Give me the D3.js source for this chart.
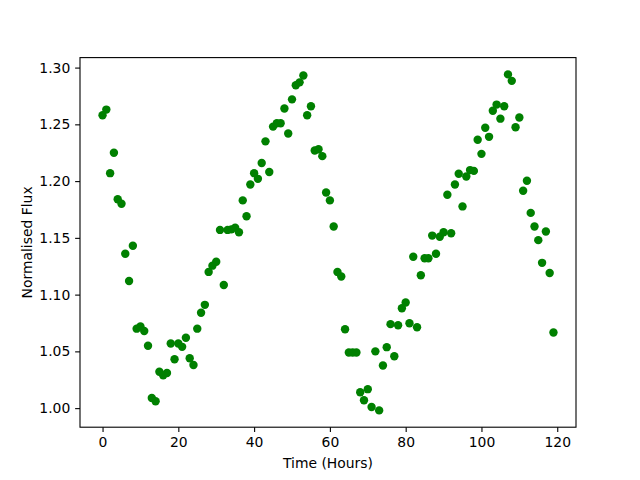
<!DOCTYPE html>
<html>
<head>
<meta charset="utf-8">
<script src="https://cdn.jsdelivr.net/npm/d3@7"></script>
<style>
  body { margin: 0; background: #fff; }
  .axis text { font: 13.9px "DejaVu Sans", sans-serif; fill: #000; }
  .axis line { stroke: #000; stroke-width: 1.1; }
  .axis path { display: none; }
  .label { font: 13.9px "DejaVu Sans", sans-serif; fill: #000; }
</style>
</head>
<body>
<svg class="chart"></svg>
<script>
// hours since start of observation
var hours = d3.range(0, 120);

// normalised flux, one value per hour
var flux = [
  1.258, 1.263, 1.207, 1.225, 1.184, 1.180, 1.136, 1.112, 1.143, 1.070,
  1.072, 1.068, 1.055, 1.009, 1.006, 1.032, 1.029, 1.031, 1.057, 1.043,
  1.057, 1.054, 1.062, 1.044, 1.038, 1.070, 1.084, 1.091, 1.120, 1.1255,
  1.129, 1.157, 1.1085, 1.157, 1.1575, 1.159, 1.155, 1.183, 1.169, 1.197,
  1.207, 1.202, 1.216, 1.235, 1.208, 1.248, 1.251, 1.251, 1.264, 1.242,
  1.272, 1.2845, 1.287, 1.293, 1.258, 1.266, 1.227, 1.228, 1.222, 1.190,
  1.183, 1.160, 1.120, 1.116, 1.0695, 1.049, 1.049, 1.049, 1.014, 1.007,
  1.0167, 1.001, 1.050, 0.998, 1.0376, 1.0537, 1.074, 1.0457, 1.073, 1.088,
  1.093, 1.0748, 1.1334, 1.0713, 1.117, 1.132, 1.132, 1.152, 1.136, 1.151,
  1.155, 1.188, 1.154, 1.197, 1.2065, 1.1777, 1.204, 1.2097, 1.209, 1.2364,
  1.224, 1.247, 1.239, 1.262, 1.2674, 1.255, 1.266, 1.294, 1.2883, 1.2475,
  1.256, 1.1915, 1.2003, 1.172, 1.160, 1.148, 1.128, 1.1556, 1.119, 1.0666
];

var xTicks = [0, 20, 40, 60, 80, 100, 120];
var yTicks = [1.00, 1.05, 1.10, 1.15, 1.20, 1.25, 1.30];

var margin = {top: 57.6, right: 64, bottom: 52.8, left: 80},
    width = 640 - margin.left - margin.right,
    height = 480 - margin.top - margin.bottom;

var data = hours.map(function(h, i) { return {t: h, f: flux[i]}; });

// matplotlib style 5% margin around the data
function padded(ext) {
  var d = (ext[1] - ext[0]) * 0.05;
  return [ext[0] - d, ext[1] + d];
}

var x = d3.scaleLinear()
    .domain(padded(d3.extent(hours)))
    .range([0, width]);

var y = d3.scaleLinear()
    .domain(padded(d3.extent(flux)))
    .range([height, 0]);

var tick = 4.86;

var xAxis = d3.axisBottom(x)
    .tickValues(xTicks)
    .tickSize(tick)
    .tickPadding(4.86)
    .tickFormat(d3.format("d"));

var yAxis = d3.axisLeft(y)
    .tickValues(yTicks)
    .tickSize(tick)
    .tickPadding(4.86)
    .tickFormat(d3.format(".2f"));

var svg = d3.select(".chart")
    .attr("width", 640)
    .attr("height", 480);

svg.append("rect")
    .attr("width", 640)
    .attr("height", 480)
    .attr("fill", "#fff");

var chart = svg.append("g")
    .attr("transform", "translate(" + margin.left + "," + margin.top + ")");

chart.selectAll(".dot")
    .data(data)
    .enter().append("circle")
      .attr("class", "dot")
      .attr("cx", function(d) { return x(d.t); })
      .attr("cy", function(d) { return y(d.f); })
      .attr("r", 4.2)
      .attr("fill", "#008000");

chart.append("g")
    .attr("class", "x axis")
    .attr("transform", "translate(0," + height + ")")
    .call(xAxis);

chart.append("g")
    .attr("class", "y axis")
    .call(yAxis);

// frame
chart.append("rect")
    .attr("width", width)
    .attr("height", height)
    .attr("fill", "none")
    .attr("stroke", "#000")
    .attr("stroke-width", 1.1);

chart.append("text")
    .attr("class", "label")
    .attr("x", width / 2)
    .attr("y", height + 41)
    .attr("text-anchor", "middle")
    .text("Time (Hours)");

chart.append("text")
    .attr("class", "label")
    .attr("transform", "translate(-48," + (height / 2) + ") rotate(-90)")
    .attr("text-anchor", "middle")
    .text("Normalised Flux");
</script>
</body>
</html>
